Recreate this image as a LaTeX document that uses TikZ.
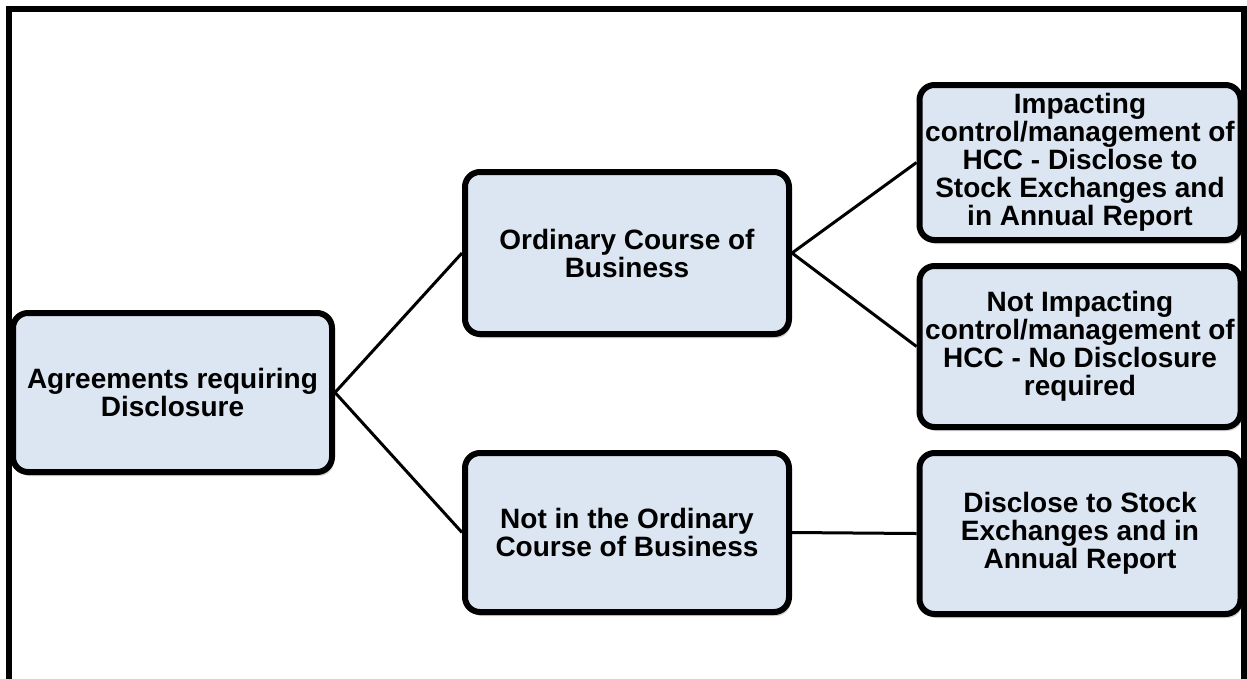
\documentclass[tikz,border=0pt]{standalone}
\usepackage{fontspec}
\setmainfont{Liberation Sans}
\usetikzlibrary{shadows}
\definecolor{boxfill}{HTML}{DCE6F2}
\tikzset{
  box/.style={draw=black, line width=6pt, fill=boxfill, rounded corners=15pt,
    minimum width=320pt, minimum height=160pt, align=center, inner sep=2pt,
    font=\bfseries\fontsize{28}{28}\selectfont,
    drop shadow={opacity=0.35, shadow xshift=2pt, shadow yshift=-4pt}},
  link/.style={draw=black, line width=3pt},
  frame/.style={draw=black, line width=6pt}
}
\begin{document}
\begin{tikzpicture}[x=1pt,y=-1pt]
\useasboundingbox (0,0) rectangle (1247,678);
\clip (0,0) rectangle (1247,678);
\fill[white] (0,0) rectangle (1247,678);
\draw[frame] (9,700) -- (9,9) -- (1244,9) -- (1244,700);
\node[box, minimum width=319pt, minimum height=159pt] (A) at (172.5,392.5) {Agreements requiring\\Disclosure};
\node[box, minimum width=324pt, minimum height=162pt] (B) at (627,253) {Ordinary Course of\\Business};
\node[box, minimum width=324pt, minimum height=159pt] (C) at (627,532.5) {Not in the Ordinary\\Course of Business};
\node[box, minimum width=321pt, minimum height=155pt] (D) at (1080,162.5) {Impacting\\control/management of\\HCC - Disclose to\\Stock Exchanges and\\in Annual Report};
\node[box, minimum width=321pt, minimum height=161pt] (E) at (1080,346.5) {Not Impacting\\control/management of\\HCC - No Disclosure\\required};
\node[box, minimum width=321pt, minimum height=161pt] (F) at (1080,533.5) {Disclose to Stock\\Exchanges and in\\Annual Report};
\draw[link] (A.east) -- (B.west);
\draw[link] (A.east) -- (C.west);
\draw[link] (B.east) -- (D.west);
\draw[link] (B.east) -- (E.west);
\draw[link] (C.east) -- (F.west);
\end{tikzpicture}
\end{document}
